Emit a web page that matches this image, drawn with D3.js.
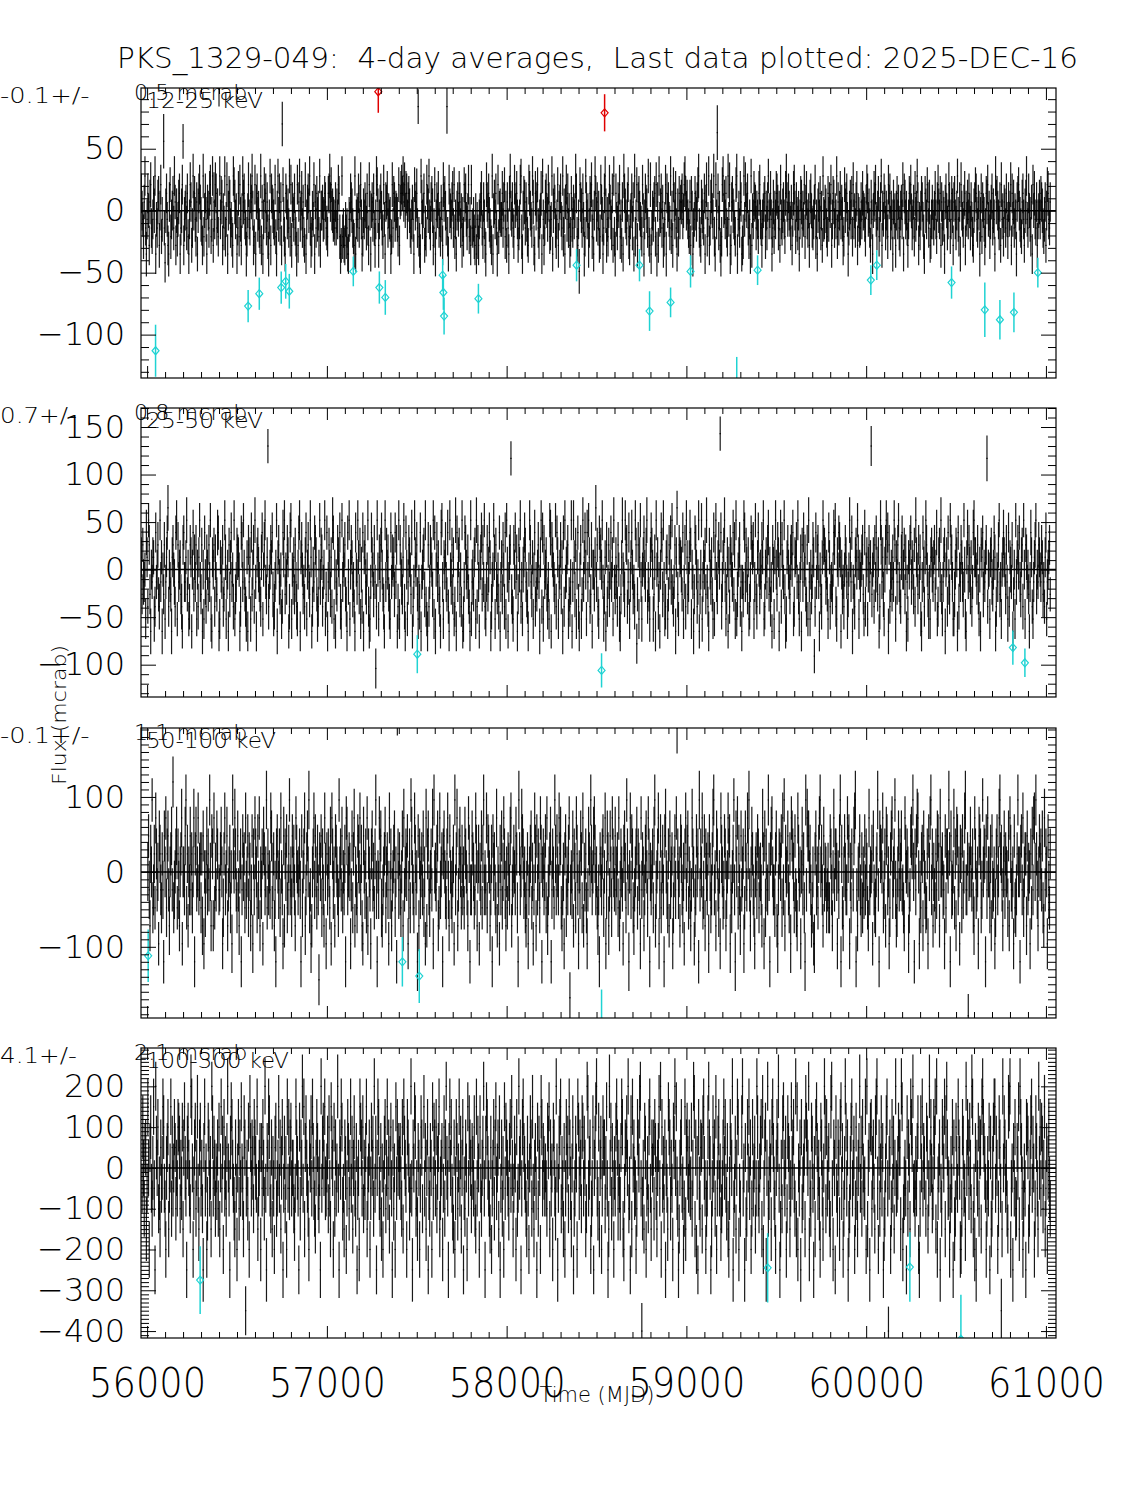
<!DOCTYPE html>
<html>
<head>
<meta charset="utf-8">
<script src="https://cdn.jsdelivr.net/npm/d3@7"></script>
<style>
  body { margin: 0; background: #fff; }
  svg text { font-family: "DejaVu Sans", sans-serif; font-weight: 200; fill: #000; white-space: pre; }
</style>
</head>
<body>
<svg id="chart" width="1125" height="1500"></svg>
<script>
// ---- data ----
const title = 'PKS_1329-049:  4-day averages,  Last data plotted: 2025-DEC-16'
const bands = ['12-25 keV', '25-50 keV', '50-100 keV', '100-300 keV']
const meanFlux = ['-0.1+/-', '0.7+/-', '-0.1+/-', '4.1+/-']
const meanErr = ['0.5 mcrab', '0.8 mcrab', '1.1 mcrab', '2.1 mcrab']
const yRanges = [[-135, 99], [-134, 170], [-195, 192], [-417, 294]]
const yTickValues = [[50, 0, -50, -100], [150, 100, 50, 0, -50, -100], [100, 0, -100], [200, 100, 0, -100, -200, -300, -400]]
const xRange = [55966, 61056]
const xTickValues = [56000, 57000, 58000, 59000, 60000, 61000]
const lastMjd = 61024
const binDays = 4

// one base-36 char per 4-day bin: flux = (code - 18) * fluxStep
const fluxStep = [7, 13, 24, 50]
// one digit per bin: err = errBase + digit * errStep
const errBase = [6, 9, 14, 33]
const errStep = [2, 3, 5, 9]

const flux12_25 = [
  'kihfjmgdhk iejlgfhkim dhgjkeilfh zqgcikhedj lfhikgmjei',
  'fhjkdgilqe hijgkfdhlj egmikhfjdi kljhgemfik hdjigklfhm',
  'ejhlkgifwm hkjeigmfhl dikjghfeml jhidgkflhe imjkhgdfil',
  'hgkjmiefld jkhigfmejd hlikgjfdhm ekjihglfdi mhkgjeslhf',
  'dkjhigmfle jihkgfdlej mhikgjfeld hjkimgefih ldjgkhifme',
  'iijhhkjggf kkmjliihhg jgihlkfdem fgeehfgddh hkjigfemdh',
  'ihkgjlhdfi hjigkgelid ijhkgehmli ehjkigflhd jjkgihhdfl',
  'gkjhiihfle jklkmjlikk hjkigfhjhd lijkgufedm jhikegflji',
  'mhgjkiegld hjikghfjhe ljkigufdli ihjkglfhdi jhkjgiehfl',
  'jkhgilfhel gghfeidhfe hijkgfjhed ljikhgfemd ijhkgdlfii',
  'hhkgjlfiej gdkmihjgfl ijkheghlmf dikjgjhfel kihgmjedki',
  'jlgfhikdmh egjkihljfg hmdikjgfhl eijkhgmfid jlhkgiefkh',
  'gjhimkfehb ljigkhdfmj hiegkjlfhd imkhjgiefl jhdgkmiehf',
  'iljhgkemfd khgjilfhej dmkihgjlfe hikgjdmfhl ejkihgflid',
  'hkjigmfeld gihjkfldje mhikgjefhl dkijhgmfie ljhkgdifkh',
  'jjkhilmkij hgfjekidgh kihjlmgfej ihgkdjlfhm egjkihmfdl',
  'hrkgiedflm ijhkgfmhld ejkihgflmd higkjdefmh ljikgfhdme',
  'ihkjjgihfk lhgehijkfi gjmhikhdgj fihkkjgiel hgijhfkmjh',
  'kihgjehkli fjhgidhkjg ihlfjkhgie jkigghjlfh dijhkgiemh',
  'hjigfkhjil ehkjgihmfj gikhjhefli jkhdgijhkf lhigjkeihg',
  'gjhkiihfjl khigejhdik jlhgikfhjm eihkjgihfl jkgihdjhie',
  'ikhjgfijhl dkjhigehkj lighjfkhim jehgikjhfd kihljgjefh',
  'jhgikhfjli hkejgihdjk ighljfhkie jkhgimhfjd lihgjkeihj',
  'hkigjhfeij lkhgjidhkf jihegkjlhi fhjkgihdmj kihgjelhif',
  'jigkhfjhil ekhjgihdjk lihgfjkhei jmhgkihfjd likhgjehij',
  'hkjigfhjei lkhgj'
]
const err12_25 = [
  '5546454655 4566545465 5456465546 7845654565 4655465456',
  '5465546545 6546545565 4565465546 5546456545 6545565465',
  '4956546545 5465465546 5546545654 6545465565 4565546546',
  '5454655456 4565546545 5465456654 5546545465 4654556465',
  '4545654556 5465456545 4656545465 5456546554 6545465546',
  '5546545465 4565456654 5465546545 6545465456 4556546545',
  '4655465456 5546545654 4565465546 6545546545 5465456546',
  '5456546545 4654556465 5546545465 4557545654 6545465546',
  '4565465546 5546545465 6545485456 4556546545 5465546654',
  '5546454655 4566545465 5456465546 6545654565 4655465456',
  '4465546545 5546545565 4565465546 5546456545 6545565465',
  '5456546545 5465465546 4546545654 6545465565 4565546546',
  '5454655456 4565546545 5465456654 5546545465 4654556465',
  '4545654556 5465456545 4656545465 5456546554 6545465546',
  '5546545465 4565456654 5465546545 6545465456 4556546545',
  '4655465456 5546545654 4565465546 6545546545 5465456546',
  '5856546545 4654556465 5546545465 4556545654 6545465546',
  '4565465546 5546545465 6545465456 4556546545 5465546654',
  '5546454655 4566545465 5456465546 6545654565 4655465456',
  '5465546545 6546545565 4565465546 5546456545 6545565465',
  '4556546545 5465465546 5546545654 6545465565 4565546546',
  '5454655456 4565546545 5465456654 5546545465 4654556465',
  '4545654556 5465456545 4656545465 5456546554 6545465546',
  '5546545465 4565456654 5465546545 6545465456 4556546545',
  '4655465456 5546545654 4565465546 6545546545 5465456546',
  '5456546545 46545'
]
const flux25_50 = [
  'jgkhhieljf mkgdihjjef lhikgfmhjd igkehjlnfi hgdjkihflm',
  'ekhijgfdkl hhjmgiefkj dilgjhkeif jmhgkdielh fjigkhmedj',
  'ikfjhgllde jihkfgmjeh idkgjlhifm eghkjjidfl khmigfejdk',
  'hjelgikfmh djkihgfjle ikmhgjsfhi kjlgefhimd jkhgiefljm',
  'gihkjdflme ihjgkhfeil mdjkighfjl eikhgmjdfi hlkjgefimh',
  'kjfhimegld hkigjfmlei dhgkjilfem hjikgfdlhm eikjghfdli',
  'hmjgkeifld jkhgimfdeh ljigkhafmi ejhkligfdm hkijgfelhj',
  'ijglhkdfme kihgjmfdli ehkjigldfh mjikgehfld hijkgmfedk',
  'fhkjigmeld ikhjgfdlmh ejikhglfdm ihkgjefmdl hjkgifmdeh',
  'lkihjgfdme higjkemfkh dijlgkhmfe hkgiljdfhi mjekhgifld',
  'hjgkiflemi dhjkrgfeki lhjdgkimfh eijlkhgfdi mkhgjeilfh',
  'gikhdjmfle khijgfheml dkjihgmflj ehikgjdlfm hijkegfhmd',
  'hmjgkeilfd ikegmhjlie lhmjfgkdii gjnhkfeljk imhegjdkfh',
  'kgilhjemhg jhfkiedgjm ihgmkkfhle hjlighfmkc gkejmheijl',
  'ihkmfhgejl kiegjdmijf hdilkgmhef jjegkilhmg fhkdjngekj',
  'jiglehkfmj ghjlkeihdg lkifhmdgim ehjikgmhfd kihjgelejm',
  'hgjkitlfhj kmhegjdifk jihlgkemeg ijkfhdhgml hkigjefhlk',
  'jkehmgfjli gihkjmefij hklgifhdki ejmigkjdil fkihmgdejk',
  'ihgjkilefj jkhmgehjdk hlijgfkemh eighkjbflh jkhdigfjmk',
  'kjhigeljfh hgilkmfeji lkjdighfik jhegimjhld hgfjkimjei',
  'hijkgelfij eikhjsgijf khligjdfmk hjgeikmjld kfhigjhmke',
  'jhkmhgfjli ikgjdhejik lhjigkfmji gkhjedhlif jmkigehejk',
  'ihjkgilefj khmgehjkdi jflhgmkjhe egikjdlfih kjhgmiedjl',
  'hkigjfhlmj jihkgeidkj lgihjkrfii ejkhgiljdf ihkmgheijl',
  'jigkhelfji hkdgiemhjk ilhgjkfmie kjhigdhljf ehjkmgihkj',
  'ihkjghfjle hijkg'
]
const err25_50 = [
  '4435434543 3445434354 4345354435 3454343544 4354435434',
  '3544345343 4435343544 3453544345 4344354435 3543443534',
  '4345435344 3534434543 4435344354 3443543443 5434345344',
  '3454344353 4435434543 3543443534 4345354435 3454343544',
  '4354435434 3544345343 4435343544 3453544345 4344354435',
  '3543443534 4345435344 3534434543 4435344354 3443543443',
  '5434345344 3454344353 4435434543 3543443534 4345354435',
  '3454343544 4354435434 3544345343 4435343544 3453544345',
  '4344354435 3543443534 4345435344 3534434543 4435344354',
  '3443543443 5434345344 3454344353 4435434543 3543443534',
  '4345354435 3454343544 4354435434 3544345343 4435343544',
  '3453544345 4344354435 3543443534 4345435344 3534434543',
  '4435344354 3443543443 5434345344 3454344353 4435434543',
  '3543443534 4345354435 3454343544 4354435434 3544345343',
  '4435343544 3453544345 4344354435 3543443534 4345435344',
  '3534434543 4435344354 3443543443 5434345344 3454344353',
  '4435434543 3543443534 4345354435 3454343544 4354435434',
  '3544345343 4435343544 3453544345 4344354435 3543443534',
  '4345435344 3534434543 4435344354 3443543443 5434345344',
  '3454344353 4435434543 3543443534 4345354435 3454343544',
  '4354435434 3544345343 4435343544 3453544345 4344354435',
  '3543443534 4345435344 3534434543 4435344354 3443543443',
  '5434345344 3454344353 4435434543 3543443534 4345354435',
  '3454343544 4354435434 3544345343 4435343544 3453544345',
  '4344354435 3543443534 4345435344 3534434543 4435344354',
  '3443543443 54343'
]
const flux50_100 = [
  'ikhfjimghjg ljhiekjhgjh dkilgjkhfij khnghijkgjh fijlei',
  'ihkmgjfi hkhjgildjkhil hijgjfkeigi khjhmifkjfl gihkjsh',
  'hjkiegjlhikf hijgiemjil jhgkhfijd hkijglhikgji fhkejhl',
  'jigkhlfih jekjhimgjhih lkgijfhdjki hjglihekfjik ghjmhi',
  'gkijhflji hijhdkgijlfh jkimghefij lhkigjhcjikg jhfliej',
  'hjigkel jhifkjihgmijhk gihjdlkhij iehkgjlfih gkjilhjfe',
  'kihjglfjihe jkhigjmh dihljkgfhijk gijhelhjfhi jkgidrjh',
  'jhgikfl hijikehjgmkih gljhidkf jhijhkgielfjk hgijhlemi',
  'ihjkfglhijd jkihgjlhfk ihgijem hjlfhjkigjhig kjihfljdh',
  'hkjighljfij eihkgjm hihlgkjifhjdk ijhglfihej hkgiljhfi',
  'gjihklfhi jihkjgdmjhil kjhigfhjeh ijkgiehljf khjigljdi',
  'jhikglfh ijkdhjigmjhki hljkgfhiej kgihjlbhih kfjigljhe',
  'ihkjglfi hjgehkjimjhik ljhigfhdji hjkgilehkjf hkigljih',
  'khijglfhj ihejkigmjhdi lhkjgfhijk gjihelhjif hjkigljdi',
  'hijgkmfhi jlehkgijhdkl ihgjfkhij egikhlqjhi fkjhgiejlh',
  'jkgihfhljie ghkijdmhjil ghkfjih jekighjlmh ifkjhgielj',
  'ighkjfhil jkehgijmhdk ilgjhfkhije gkihljmhfi kjhgeij',
  'hkjgiihflj ekgjhh midjkl ihhgjkfe hjjikgl hmfjiikhgjel',
  'kjigkhgfljh ieikhjgdmh lkkijhfgi eejkhigj lmijhfkhiigh',
  'iggkjhfil hjjieihkmdj gfikihhlj keigjshkl mdhfiikhgjgi',
  'hkhjigflhii jekhggijm hdkjjilgh jfkkhiegjk lhijmhfgikh',
  'jikhhgfljij ieghkkjmi djhklliehg jjfkihggj ekilmhjfih',
  'gjhkkiflii jhhekgjjim jdkhhilgj fkkhiejjg khilmhhjai',
  'ikihjgfljhh iekkjghmi jjdkhliigj fkhhiegjk hilmjjhfik',
  'hjiigkfljh hiekgghjmi idjkhlgijj fkhiiejgk hllimjhfik',
  'ijhkgflhji ekhgj'
]
const err50_100 = [
  '4534453445 3545434453 4435345443 5344354435 4353445345',
  '3454435344 4543534454 3445435344 4534354435 3544345434',
  '4435344543 3544534435 4345435443 5434435344 4353445435',
  '3544354434 4435344543 5344534435 4435345443 3545434453',
  '4534453445 3454435344 4543534454 3445435344 4534354435',
  '3544345434 4435344543 3544534435 4345435443 5434435344',
  '4353445435 3544354434 4435344543 5344534435 4435345443',
  '3545434453 4534453445 3454435344 4543534454 3445435344',
  '4534354435 3544345434 4435344543 3544534435 4345435443',
  '5434435344 4353445435 3544354434 4435344543 5344534435',
  '4435345443 3545434453 4534453445 3454435344 4543534454',
  '3445435344 4534354435 3544345434 4435344543 3544534435',
  '4345435443 5434435344 4353445435 3544354434 4435344543',
  '5344534435 4435345443 3545434453 4534453445 3454435344',
  '4543534454 3445435344 4534354435 3544345434 4435344543',
  '3544534435 4345435443 5434435344 4353445435 3544354434',
  '4435344543 5344534435 4435345443 3545434453 4534453445',
  '3454435344 4543534454 3445435344 4534354435 3544345434',
  '4435344543 3544534435 4345435443 5434435344 4353445435',
  '3544354434 4435344543 5344534435 4435345443 3545434453',
  '4534453445 3454435344 4543534454 3445435344 4534354435',
  '3544345434 4435344543 3544534435 4345435443 5434435344',
  '4353445435 3544354434 4435344543 5344534435 4435345443',
  '3545434453 4534453445 3454435344 4543534454 3445435344',
  '4534354435 3544345434 4435344543 3544534435 4345435443',
  '5434435344 43534'
]
const flux100_300 = [
  'hkigjjfhl iejkhgilhdm jikghf jhilkhgeijkf hilgjhikjg ihkk',
  'jgihkfjlih djkihgmlie hjkgil hfjkhigdjlhie gkjhifmkhj ig',
  'ihjgkfil hjekhigjmihdj lkihgf jhe ikgjhlihfkjb higkeljh ji',
  'gkjihlfhije jhkigmh djilkhgjfih ejkghil hjfikdhjg ielhkh',
  'jkhiigfhl jihdkgji mhlfjkihg ejikhljhgfi kjhgidmhj kilh',
  'hijgkhflji ekgjhim hdjilkghfj iehkjgil hjfikh gjdhielkjh',
  'kgihjlfhij ehkijgmhjdi lkhgjfiehj kgilhjfi khdjgiel hkij',
  'ijhgkfljih ekjighmhd jilkghfjieh kjgrlh jfikdhgjielhkj',
  'hkgijlfh ijehkgjmih djlikhgfje hkjgilhjfi kdhgjiel hkjig',
  'jihkgflh jiekhgijmhd jlkihgfjeh ikgjlhijf kdhjgielh kjih',
  'gjkhlifhj iekghmijdh kljihgfjhe ikjglhfij hdkgjielkh jih',
  'ihgkjlfj hiekjhgmid hjklgihfje hkijgl jhfikdghji elkhjig',
  'kkhjifgml hijeghkdi jlmhgkfij ehkjjgilhd fmikgjh eihkljg',
  'ihgjlkfe hjjkimghd kflijhhegk jilmhagif kjehigkl hfjij',
  'gkjhfijlh mekhigjd ihflkjgih ekjmilhgdf ijkhheg lfjkih',
  'jhhkgimlfj eidkhgjj fkliheghk mjidfhkij glehjkhif ghj',
  'likhgjfe hkjimdgh jfilkehgqk mhidjfgk ilhjegkhi jfhmk',
  'hgijkfleh jkdimghj ifkljhgei kjmhdfigk lihjegkji fhl',
  'ijkhgmfl eihjdkghi jflkjimeh gkjhdifk ljhigekjh fimkg',
  'khijgflmh ejidkhgj ifklhjegi mkhjdfgi klhijegkh fijmh',
  'jgkihhlemf ijdkkgij hfklmhejgi khjdfgik lhaijegkh jfimh',
  'hikjjfmleg hihdkgji flkjmhhgi hjkedgki lhjiqgkj fhmik',
  'ighkjlfmeh ijdhgkji lfkmjhhegi hkdjfgki hljieegk jhhfmik',
  'jhkigmlfhe jdihkgjj flmkjiheg ihkdjfgi kllhjieg kjhbfmi',
  'kjhigfllmeh idjhkggji lfmkjhegi hdkkjfgik lhjiegk jhfmik',
  'hkjgilfhje ikhg'
]
const err100_300 = [
  '4354434534 4435345443 3544354435 4534453443 3445434354',
  '4435345344 3544534435 4345434453 5434435344 3453445435',
  '4544354434 3435344543 4344534435 4435345443 3545434453',
  '4534453445 3454435344 4543534454 3445435344 4534354435',
  '3544345434 4435344543 3544534435 4345435443 5434435344',
  '4353445435 3544354434 4435344543 5344534435 4435345443',
  '3545434453 4534453445 3454435344 4543534454 3445435344',
  '4534354435 3544345434 4435344543 3544534435 4345435443',
  '5434435344 4353445435 3544354434 4435344543 5344534435',
  '4435345443 3545434453 4534453445 3454435344 4543534454',
  '3445435344 4534354435 3544345434 4435344543 3544534435',
  '4345435443 5434435344 4353445435 3544354434 4435344543',
  '5344534435 4435345443 3545434453 4534453445 3454435344',
  '4543534454 3445435344 4534354435 3544345434 4435344543',
  '3544534435 4345435443 5434435344 4353445435 3544354434',
  '4435344543 5344534435 4435345443 3545434453 4534453445',
  '3454435344 4543534454 3445435344 4534354435 3544345434',
  '4435344543 3544534435 4345435443 5434435344 4353445435',
  '3544354434 4435344543 5344534435 4435345443 3545434453',
  '4534453445 3454435344 4543534454 3445435344 4534354435',
  '3544345434 4435344543 3544534435 4345435443 5434435344',
  '4353445435 3544354434 4435344543 5344534435 4435345443',
  '3545434453 4534453445 3454435344 4543534454 3445435344',
  '4534354435 3544345434 4435344543 3544534435 4345435443',
  '5434435344 4353445435 3544354434 4435344543 5344534435',
  '4435345443 35454'
]
// highlighted bins: band index, MJD, flux, error, kind (hi = red, lo = cyan)
const flagged = [
  [0, 56047, -113, 21, 'lo'], [0, 56562, -77, 13, 'lo'], [0, 56624, -67, 13, 'lo'],
  [0, 56746, -62, 13, 'lo'], [0, 56771, -57, 14, 'lo'], [0, 56791, -65, 14, 'lo'],
  [0, 57147, -49, 12, 'lo'], [0, 57286, 96, 17, 'hi'], [0, 57292, -62, 13, 'lo'],
  [0, 57325, -70, 14, 'lo'], [0, 57644, -52, 13, 'lo'], [0, 57648, -66, 14, 'lo'],
  [0, 57652, -85, 15, 'lo'], [0, 57843, -71, 12, 'lo'], [0, 58389, -44, 13, 'lo'],
  [0, 58545, 79, 15, 'hi'], [0, 58739, -44, 13, 'lo'], [0, 58795, -81, 16, 'lo'],
  [0, 58912, -74, 12, 'lo'], [0, 59023, -49, 13, 'lo'], [0, 59280, -140, 22, 'lo'],
  [0, 59396, -48, 12, 'lo'], [0, 60026, -56, 12, 'lo'], [0, 60059, -44, 12, 'lo'],
  [0, 60475, -58, 13, 'lo'], [0, 60660, -80, 22, 'lo'], [0, 60744, -88, 16, 'lo'],
  [0, 60822, -82, 16, 'lo'], [0, 60955, -50, 12, 'lo'],
  [1, 57503, -89, 20, 'lo'], [1, 58528, -106, 18, 'lo'], [1, 60816, -82, 18, 'lo'],
  [1, 60883, -98, 15, 'lo'],
  [2, 56006, -112, 35, 'lo'], [2, 57420, -120, 33, 'lo'], [2, 57514, -139, 36, 'lo'],
  [2, 58528, -200, 43, 'lo'],
  [3, 56295, -275, 83, 'lo'], [3, 59452, -245, 85, 'lo'], [3, 60243, -243, 85, 'lo'],
  [3, 60527, -420, 109, 'lo']
]

const fluxSeries = [flux12_25, flux25_50, flux50_100, flux100_300]
const errSeries = [err12_25, err25_50, err50_100, err100_300]

// ---- drawing ----
const svg = d3.select('#chart')
const left = 141, right = 1056
const boxes = [[88, 378], [408, 697], [728, 1018], [1048, 1338]]
const x = d3.scaleLinear().domain(xRange).range([left, right])
const decode = rows => rows.join('').replace(/\s/g, '').split('')
const minus = d => d < 0 ? '\u2212' + Math.abs(d) : String(d)
const xMinor = d3.range(56000, 61100, 100).filter(d => !xTickValues.includes(d))

function tidy (sel) {
  sel.select('.domain').remove()
  sel.selectAll('line').attr('stroke', '#000')
}

svg.append('text')
  .attr('x', 117).attr('y', 68)
  .attr('textLength', 961).attr('lengthAdjust', 'spacingAndGlyphs')
  .style('font-size', '29px')
  .text(title)

bands.forEach((band, p) => {
  const [top, bottom] = boxes[p]
  const y = d3.scaleLinear().domain(yRanges[p]).range([bottom, top])
  const fc = decode(fluxSeries[p])
  const ec = decode(errSeries[p])
  const n = fc.length
  // the series are anchored on the last bin plotted
  const pts = fc.map((c, i) => ({
    mjd: lastMjd - binDays * (n - 1 - i),
    flux: (parseInt(c, 36) - 18) * fluxStep[p],
    err: errBase[p] + parseInt(ec[i - n + ec.length] || '4', 10) * errStep[p]
  }))

  svg.append('clipPath').attr('id', 'clip' + p)
    .append('rect')
    .attr('x', left).attr('y', top)
    .attr('width', right - left).attr('height', bottom - top)

  const g = svg.append('g').attr('clip-path', `url(#clip${p})`)

  g.append('g')
    .attr('stroke', '#000')
    .attr('stroke-width', 1.2)
    .attr('stroke-opacity', 0.9)
    .selectAll('line')
    .data(pts)
    .join('line')
      .attr('x1', d => x(d.mjd))
      .attr('x2', d => x(d.mjd))
      .attr('y1', d => y(d.flux - d.err))
      .attr('y2', d => y(d.flux + d.err))

  g.append('g')
    .attr('fill', '#000')
    .selectAll('rect')
    .data(pts)
    .join('rect')
      .attr('x', d => x(d.mjd) - 0.6)
      .attr('y', d => y(d.flux) - 0.6)
      .attr('width', 1.2)
      .attr('height', 1.2)

  g.append('line')
    .attr('x1', left).attr('x2', right)
    .attr('y1', y(0)).attr('y2', y(0))
    .attr('stroke', '#000').attr('stroke-width', 1.5)

  const marks = g.append('g')
    .selectAll('g')
    .data(flagged.filter(d => d[0] === p))
    .join('g')
      .attr('stroke', d => d[4] === 'hi' ? '#e00000' : '#1fd3d3')
      .attr('fill', 'none')

  marks.append('line')
    .attr('stroke-width', 1.5)
    .attr('x1', d => x(d[1])).attr('x2', d => x(d[1]))
    .attr('y1', d => y(d[2] - d[3])).attr('y2', d => y(d[2] + d[3]))

  marks.append('path')
    .attr('stroke-width', 1.2)
    .attr('d', d => {
      const cx = x(d[1]), cy = y(d[2])
      return `M${cx},${cy - 4}L${cx + 3.5},${cy}L${cx},${cy + 4}L${cx - 3.5},${cy}Z`
    })

  // axes: ticks point inward on all four sides
  const [lo, hi] = yRanges[p]
  const yMinor = d3.range(Math.ceil(lo / 10) * 10, hi + 0.01, 10).filter(d => !yTickValues[p].includes(d))

  const yAxis = svg.append('g')
    .attr('transform', `translate(${left},0)`)
    .call(d3.axisLeft(y).tickValues(yTickValues[p]).tickSize(-15).tickPadding(16).tickFormat(minus))
    .call(tidy)
  yAxis.selectAll('text').style('font-size', '32px')

  svg.append('g')
    .attr('transform', `translate(${left},0)`)
    .call(d3.axisLeft(y).tickValues(yMinor).tickSize(-8).tickFormat(() => ''))
    .call(tidy)
  svg.append('g')
    .attr('transform', `translate(${right},0)`)
    .call(d3.axisRight(y).tickValues(yTickValues[p]).tickSize(-15).tickFormat(() => ''))
    .call(tidy)
  svg.append('g')
    .attr('transform', `translate(${right},0)`)
    .call(d3.axisRight(y).tickValues(yMinor).tickSize(-8).tickFormat(() => ''))
    .call(tidy)

  svg.append('g')
    .attr('transform', `translate(0,${top})`)
    .call(d3.axisTop(x).tickValues(xTickValues).tickSize(-12).tickFormat(() => ''))
    .call(tidy)
  svg.append('g')
    .attr('transform', `translate(0,${top})`)
    .call(d3.axisTop(x).tickValues(xMinor).tickSize(-6).tickFormat(() => ''))
    .call(tidy)

  const last = p === bands.length - 1
  const xAxis = svg.append('g')
    .attr('transform', `translate(0,${bottom})`)
    .call(d3.axisBottom(x).tickValues(xTickValues).tickSize(-12).tickFormat(d => last ? d : ''))
    .call(tidy)
  xAxis.selectAll('text')
    .attr('y', 59).attr('dy', null)
    .attr('textLength', 117).attr('lengthAdjust', 'spacingAndGlyphs')
    .style('font-size', '41px')
  svg.append('g')
    .attr('transform', `translate(0,${bottom})`)
    .call(d3.axisBottom(x).tickValues(xMinor).tickSize(-6).tickFormat(() => ''))
    .call(tidy)

  svg.append('rect')
    .attr('x', left).attr('y', top)
    .attr('width', right - left).attr('height', bottom - top)
    .attr('fill', 'none').attr('stroke', '#000').attr('stroke-width', 1.2)

  // labels in the upper-left corner, wide and thin like the plotting font
  svg.append('text').attr('x', 0).attr('y', top + 15)
    .attr('textLength', meanFlux[p].length * 12.8).attr('lengthAdjust', 'spacingAndGlyphs')
    .style('font-size', '21px').text(meanFlux[p])
  svg.append('text').attr('x', 134).attr('y', top + 12)
    .attr('textLength', meanErr[p].length * 12.6).attr('lengthAdjust', 'spacingAndGlyphs')
    .style('font-size', '21px').text(meanErr[p])
  svg.append('text').attr('x', 146).attr('y', top + 20)
    .attr('textLength', band.length * 13).attr('lengthAdjust', 'spacingAndGlyphs')
    .style('font-size', '22px').text(band)
})

svg.append('text')
  .attr('transform', 'translate(66,715) rotate(-90)')
  .attr('text-anchor', 'middle')
  .attr('textLength', 140).attr('lengthAdjust', 'spacingAndGlyphs')
  .style('font-size', '20px')
  .text('Flux (mcrab)')

svg.append('text')
  .attr('x', 597).attr('y', 1402)
  .attr('text-anchor', 'middle')
  .style('font-size', '21px')
  .text('Time (MJD)')
</script>
</body>
</html>
